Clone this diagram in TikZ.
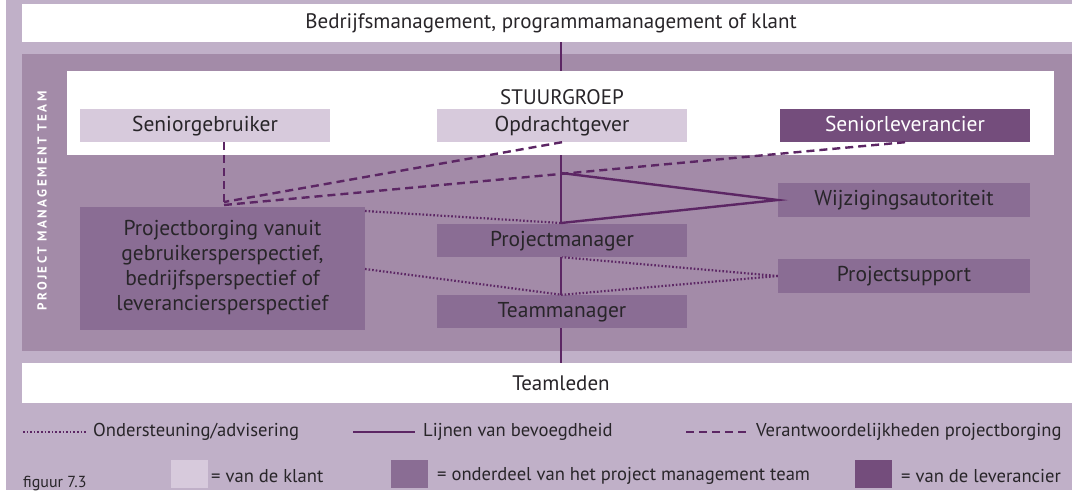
\documentclass[tikz,border=0pt]{standalone}
\usepackage{fontspec}
\setmainfont{PT Sans}
\definecolor{bglight}{RGB}{192,176,200}
\definecolor{pmtbg}{RGB}{163,139,168}
\definecolor{boxmid}{RGB}{138,109,148}
\definecolor{boxklant}{RGB}{215,202,220}
\definecolor{boxlev}{RGB}{116,77,124}
\definecolor{linecol}{RGB}{92,38,100}
\definecolor{txt}{RGB}{40,37,41}
\tikzset{
  band/.style={rectangle, inner sep=0pt, fill=white, minimum width=1050pt, minimum height=#1},
  box/.style={rectangle, inner sep=0pt, minimum width=250pt, minimum height=33pt, text=txt, font=\fontsize{21.5}{25}\selectfont, text height=15pt, text depth=4pt},
  midbox/.style={box, fill=boxmid},
  klantbox/.style={box, fill=boxklant},
  levbox/.style={box, fill=boxlev, text=white},
  lbl/.style={inner sep=0pt, text=txt, font=\fontsize{21}{25}\selectfont},
  leg/.style={inner sep=0pt, text=txt, font=\fontsize{18.6}{22}\selectfont},
  auth/.style={draw=linecol, line width=2.4pt},
  resp/.style={draw=linecol, line width=2.4pt, dash pattern=on 8pt off 5pt},
  supp/.style={draw=linecol, line width=2.2pt, dash pattern=on 1.6pt off 2pt},
  sq/.style={rectangle, inner sep=0pt, minimum width=37pt, minimum height=28pt}
}
\begin{document}
\begin{tikzpicture}[x=1pt,y=-1pt]
\useasboundingbox (0,0) rectangle (1072,491);
\fill[white] (0,0) rectangle (1072,491);
\fill[bglight] (6,0) rectangle (1072,490);
% bands
\node[band=38pt] (bm) at (547,23) {};
\fill[pmtbg] (22,54) rectangle (1072,351);
\node[band=40pt] (tl) at (547,383) {};
\node[lbl] (bmt) at (551,23) {Bedrijfsmanagement, programmamanagement of klant};
\node[lbl] (tlt) at (561,383) {Teamleden};
% authority axis
\coordinate (axis) at (561,0);
\draw[auth] (axis |- bm.south) -- (axis |- tl.north);
% steering group
\node[rectangle, inner sep=0pt, fill=white, minimum width=987pt, minimum height=84pt] (sgrp) at (560.5,113) {};
\node[lbl] (sgt) at (562,97) {STUURGROEP};
\node[klantbox] (sg) at (205,125.5) {Seniorgebruiker};
\node[klantbox] (og) at (562,125.5) {Opdrachtgever};
\node[levbox] (sl) at (905,125.5) {Seniorleverancier};
% PMT boxes
\node[midbox, minimum width=252pt, minimum height=34pt] (wz) at (904,200) {Wijzigingsautoriteit};
\node[midbox, minimum height=33pt] (pm) at (562,240.5) {Projectmanager};
\node[midbox, minimum width=252pt, minimum height=34pt] (ps) at (904,276) {Projectsupport};
\node[midbox, minimum height=33pt] (tm) at (562,311.5) {Teammanager};
\node[midbox, minimum width=285pt, minimum height=123pt, align=center, font=\fontsize{21.5}{25}\selectfont, text height=, text depth=] (pb) at (222.5,268) {Projectborging vanuit\\gebruikersperspectief,\\bedrijfsperspectief of\\leveranciersperspectief};
% vertical label
\node[rotate=90, text=white, inner sep=0pt, font=\fontsize{13}{15}\selectfont\bfseries\addfontfeatures{LetterSpace=19}] (pmtl) at (42,201) {PROJECT MANAGEMENT TEAM};
% junctions
\coordinate (jA) at (561,173);
\coordinate (jB) at (561,223);
\coordinate (jC) at (224,202);
\coordinate (jD) at (224,205);
\coordinate (sgb) at (224,142);
\coordinate (pbe1) at (365,211);
\coordinate (pbe2) at (365,269);
% authority to change authority
\draw[auth] (jA) -- (wz.west) -- (jB);
% assurance
\draw[resp] (sgb) -- (jC);
\draw[resp] (og.south) -- (jC);
\draw[resp] (sl.south) -- (jD);
% support
\draw[supp] (pbe1) -- (jB);
\draw[supp] (pbe2) -- (tm.north);
\draw[supp] (ps.west) -- (pm.south);
\draw[supp] (ps.west) -- (tm.north);
% legend
\coordinate (l1a) at (23,432); \coordinate (l1b) at (87,432);
\draw[supp] (l1a) -- (l1b);
\node[leg, anchor=west] (l1t) at (93,432) {Ondersteuning/advisering};
\coordinate (l2a) at (353,432); \coordinate (l2b) at (415,432);
\draw[auth] (l2a) -- (l2b);
\node[leg, anchor=west] (l2t) at (423,432) {Lijnen van bevoegdheid};
\coordinate (l3a) at (686,432); \coordinate (l3b) at (750,432);
\draw[resp] (l3a) -- (l3b);
\node[leg, anchor=west] (l3t) at (756,432) {Verantwoordelijkheden projectborging};
\node[anchor=base west, inner sep=0pt, text=txt, font=\fontsize{16}{18}\selectfont] (fig) at (23,487) {figuur 7.3};
\node[sq, fill=boxklant] (sq1) at (189.5,474) {};
\node[leg, anchor=west] (sq1t) at (211,476) {= van de klant};
\node[sq, fill=boxmid] (sq2) at (409,474) {};
\node[leg, anchor=west] (sq2t) at (437,476) {= onderdeel van het project management team};
\node[sq, fill=boxlev] (sq3) at (873,474) {};
\node[leg, anchor=west] (sq3t) at (901,476) {= van de leverancier};
\end{tikzpicture}
\end{document}
